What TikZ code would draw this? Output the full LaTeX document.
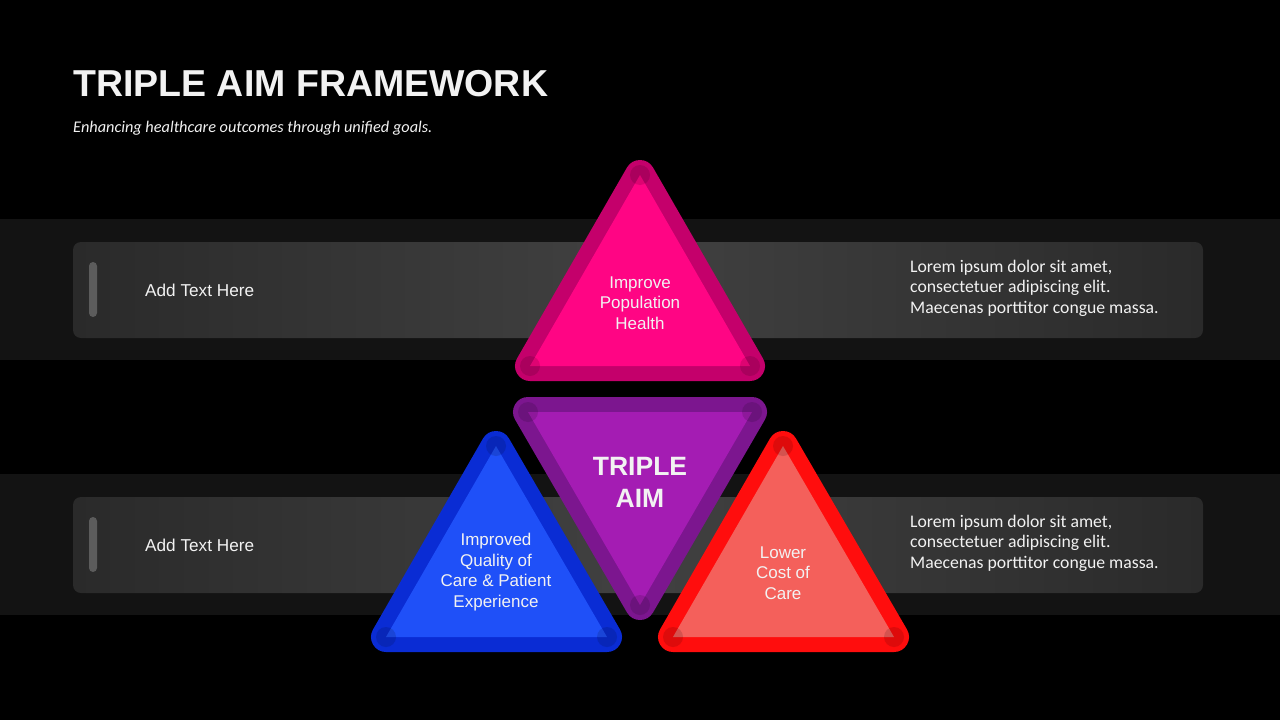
\documentclass[tikz,border=0pt]{standalone}
\usepackage{fontspec}
\setmainfont{Liberation Sans}
\newfontfamily\loremfont{Carlito}
\usetikzlibrary{positioning}

\definecolor{bandgray}{HTML}{131313}
\definecolor{boxedge}{HTML}{2A2A2A}
\definecolor{boxmid}{HTML}{414141}
\definecolor{pillgray}{HTML}{5C5C5C}
\definecolor{pinkrim}{HTML}{C4006B}
\definecolor{pinkfill}{HTML}{FF0584}
\definecolor{purplerim}{HTML}{7C168F}
\definecolor{purplefill}{HTML}{A41CB3}
\definecolor{bluerim}{HTML}{0A2CD4}
\definecolor{bluefill}{HTML}{1F50F8}
\definecolor{redrim}{HTML}{FF0D0D}
\definecolor{redfill}{HTML}{F4605B}
\definecolor{txtwhite}{HTML}{F2F2F2}

\tikzset{
  rim/.style={line width=30pt, line join=round, draw=#1},
  cornerdot/.style={fill=black, opacity=0.13},
  tritext/.style={text=txtwhite, align=center, font=\fontsize{17}{20.5}\selectfont},
  addtext/.style={text=txtwhite, anchor=west, inner sep=0, font=\fontsize{17.2}{20}\selectfont},
  loremtext/.style={text=txtwhite, anchor=north west, align=left, font=\loremfont\fontsize{17.7}{20.5}\selectfont},
}

\begin{document}
\begin{tikzpicture}[x=1pt,y=-1pt]
    \fill [black] (0,0) rectangle (1280,720);
    \useasboundingbox (0,0) rectangle (1280,720);

    %title
    \node [anchor=base west, inner sep=0, text=txtwhite, font=\fontsize{37.5}{40}\selectfont\bfseries] (title) at (73,96) {TRIPLE AIM FRAMEWORK};
    \node [anchor=base west, inner sep=0, text=txtwhite, font=\loremfont\fontsize{16.3}{18}\selectfont\itshape] (subtitle) at (73,132) {Enhancing healthcare outcomes through unified goals.};

    %bands
    \fill [bandgray] (0,219) rectangle (1280,360);
    \fill [bandgray] (0,474) rectangle (1280,615);
    \shade [rounded corners=8pt, left color=boxedge, right color=boxedge, middle color=boxmid] (73,242) rectangle (1203,338);
    \shade [rounded corners=8pt, left color=boxedge, right color=boxedge, middle color=boxmid] (73,497) rectangle (1203,593);
    \fill [pillgray, rounded corners=4pt] (89,262) rectangle (97,317);
    \fill [pillgray, rounded corners=4pt] (89,517) rectangle (97,572);

    \node [addtext] (add1) at (145,290) {Add Text Here};
    \node [addtext] (add2) at (145,545) {Add Text Here};
    \node [loremtext, inner sep=0] (lorem1) at (910,260) {Lorem ipsum dolor sit amet,\\consectetuer adipiscing elit.\\Maecenas porttitor congue massa.};
    \node [loremtext, inner sep=0] (lorem2) at (910,515) {Lorem ipsum dolor sit amet,\\consectetuer adipiscing elit.\\Maecenas porttitor congue massa.};

    %pink
    \draw [rim=pinkrim] (640,175) -- (530,366) -- (750,366) -- cycle;
    \fill [pinkfill] (640,175) -- (530,366) -- (750,366) -- cycle;
    \fill [cornerdot] (640,175) circle (10);
    \fill [cornerdot] (530,366) circle (10);
    \fill [cornerdot] (750,366) circle (10);
    \node [tritext] (health) at (640,303) {Improve\\Population\\Health};

    %blue
    \draw [rim=bluerim] (496,446) -- (386,637) -- (607,637) -- cycle;
    \fill [bluefill] (496,446) -- (386,637) -- (607,637) -- cycle;
    \fill [cornerdot] (496,446) circle (10);
    \fill [cornerdot] (386,637) circle (10);
    \fill [cornerdot] (607,637) circle (10);
    \node [tritext] (quality) at (496,572) {Improved\\Quality of\\Care \& Patient\\Experience};

    %red
    \draw [rim=redrim] (783,446) -- (673,637) -- (894,637) -- cycle;
    \fill [redfill] (783,446) -- (673,637) -- (894,637) -- cycle;
    \fill [cornerdot] (783,446) circle (10);
    \fill [cornerdot] (673,637) circle (10);
    \fill [cornerdot] (894,637) circle (10);
    \node [tritext] (cost) at (783,573) {Lower\\Cost of\\Care};

    %purple
    \draw [rim=purplerim] (528,412) -- (752,412) -- (640,605) -- cycle;
    \fill [purplefill] (528,412) -- (752,412) -- (640,605) -- cycle;
    \fill [cornerdot] (528,412) circle (10);
    \fill [cornerdot] (752,412) circle (10);
    \fill [cornerdot] (640,605) circle (10);
    \node [tritext, font=\fontsize{26.5}{32}\selectfont\bfseries] (aim) at (640,482) {TRIPLE\\AIM};

\end{tikzpicture}
\end{document}
